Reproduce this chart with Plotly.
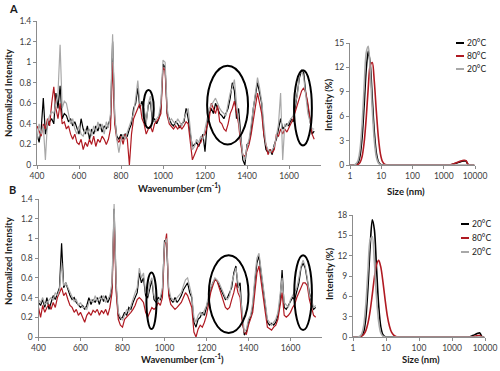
import plotly.graph_objects as go

# ---------------- data ----------------
wavenumbers = list(range(400, 1730, 10))

specA_20a = [0.30,0.22,0.35,0.65,0.30,0.38,0.42,0.45,0.40,0.70,
             0.55,0.77,0.45,0.50,0.48,0.42,0.45,0.38,0.42,0.35,
             0.30,0.45,0.35,0.30,0.38,0.25,0.35,0.30,0.38,0.33,
             0.40,0.32,0.38,0.35,0.40,0.45,1.20,0.45,0.28,0.25,
             0.30,0.25,0.30,0.28,0.35,0.40,0.55,0.60,0.75,0.55,
             0.62,0.50,0.42,0.58,0.62,0.42,0.45,0.40,0.45,0.55,
             0.98,0.95,0.50,0.45,0.40,0.38,0.42,0.40,0.36,0.40,
             0.42,0.55,0.45,0.30,0.18,0.20,0.22,0.18,0.25,0.30,
             0.13,0.40,0.50,0.55,0.50,0.60,0.55,0.50,0.48,0.45,
             0.50,0.55,0.65,0.80,0.72,0.45,0.55,0.30,0.05,0.00,
             0.20,0.22,0.35,0.55,0.70,0.80,0.70,0.60,0.30,0.15,
             0.12,0.15,0.10,0.20,0.25,0.35,0.45,0.35,0.38,0.40,
             0.38,0.45,0.42,0.55,0.70,0.85,0.92,0.90,0.70,0.55,
             0.40,0.30,0.33]
specA_80 = [0.38,0.32,0.28,0.40,0.35,0.45,0.38,0.60,0.76,0.55,
            0.45,0.60,0.40,0.42,0.35,0.38,0.30,0.25,0.30,0.22,
            0.20,0.25,0.15,0.22,0.18,0.25,0.20,0.28,0.18,0.25,
            0.22,0.28,0.25,0.20,0.25,0.35,1.00,0.40,0.25,0.22,
            0.28,0.20,0.30,0.25,0.00,0.30,0.45,0.50,0.55,0.60,
            0.45,0.40,0.30,0.35,0.38,0.32,0.40,0.42,0.45,0.50,
            0.95,0.92,0.48,0.40,0.38,0.35,0.38,0.35,0.38,0.35,
            0.38,0.42,0.40,0.25,0.05,0.10,0.15,0.20,0.22,0.28,
            0.30,0.38,0.45,0.60,0.55,0.50,0.58,0.42,0.40,0.35,
            0.33,0.40,0.50,0.55,0.62,0.50,0.40,0.20,0.10,0.08,
            0.15,0.20,0.30,0.45,0.60,0.70,0.60,0.50,0.30,0.18,
            0.10,0.15,0.12,0.15,0.30,0.28,0.35,0.30,0.35,0.32,
            0.36,0.40,0.45,0.52,0.58,0.65,0.72,0.75,0.70,0.60,
            0.45,0.30,0.25]
specA_20b = [0.25,0.40,0.30,0.38,0.05,0.42,0.48,0.52,0.50,0.60,
             0.70,1.17,0.55,0.62,0.60,0.50,0.40,0.45,0.35,0.30,
             0.38,0.30,0.28,0.35,0.30,0.35,0.28,0.38,0.32,0.42,
             0.35,0.40,0.30,0.42,0.36,0.50,1.27,0.50,0.25,0.12,
             0.25,0.30,0.25,0.32,0.38,0.45,0.50,0.65,0.82,0.60,
             0.58,0.55,0.40,0.60,0.67,0.45,0.42,0.45,0.48,0.60,
             1.02,1.00,0.55,0.42,0.45,0.42,0.40,0.45,0.42,0.38,
             0.45,0.50,0.55,0.35,0.15,0.18,0.25,0.22,0.28,0.25,
             0.35,0.45,0.55,0.58,0.62,0.65,0.60,0.55,0.52,0.50,
             0.48,0.60,0.70,0.75,0.83,0.60,0.45,0.25,0.10,0.05,
             0.18,0.25,0.40,0.55,0.75,0.85,0.75,0.62,0.40,0.20,
             0.15,0.12,0.15,0.18,0.28,0.40,0.70,0.05,0.40,0.38,
             0.42,0.45,0.48,0.60,0.68,0.88,0.92,0.85,0.65,0.50,
             0.42,0.35,0.35]

specB_20a = [0.35,0.32,0.38,0.30,0.40,0.28,0.35,0.42,0.38,0.45,
             0.50,0.95,0.50,0.55,0.48,0.42,0.38,0.40,0.35,0.33,
             0.30,0.32,0.28,0.32,0.40,0.33,0.38,0.35,0.40,0.33,
             0.42,0.36,0.42,0.35,0.40,0.50,1.30,0.50,0.22,0.18,
             0.20,0.25,0.22,0.30,0.28,0.35,0.40,0.45,0.65,0.55,
             0.60,0.42,0.40,0.50,0.58,0.38,0.35,0.40,0.38,0.45,
             0.98,0.95,0.45,0.38,0.35,0.40,0.35,0.38,0.42,0.48,
             0.52,0.55,0.45,0.40,0.15,0.10,0.18,0.20,0.25,0.22,
             0.30,0.40,0.48,0.55,0.58,0.57,0.52,0.48,0.42,0.38,
             0.40,0.45,0.50,0.65,0.72,0.50,0.55,0.20,0.02,0.05,
             0.15,0.20,0.30,0.55,0.75,0.82,0.65,0.45,0.30,0.15,
             0.12,0.14,0.12,0.15,0.22,0.35,0.68,0.30,0.28,0.32,
             0.35,0.40,0.38,0.48,0.55,0.70,0.75,0.70,0.55,0.45,
             0.35,0.28,0.30]
specB_80 = [0.30,0.20,0.32,0.25,0.30,0.33,0.28,0.35,0.30,0.40,
            0.45,0.50,0.42,0.45,0.38,0.32,0.30,0.25,0.28,0.22,
            0.25,0.20,0.15,0.22,0.25,0.22,0.27,0.25,0.28,0.22,
            0.27,0.24,0.28,0.22,0.30,0.45,1.20,0.45,0.18,0.12,
            0.10,0.18,0.20,0.22,0.25,0.28,0.32,0.38,0.40,0.38,
            0.35,0.25,0.20,0.25,0.30,0.28,0.30,0.35,0.32,0.40,
            0.90,1.05,0.42,0.33,0.30,0.28,0.30,0.32,0.35,0.40,
            0.45,0.42,0.35,0.30,0.05,0.00,0.08,0.12,0.10,0.15,
            0.22,0.35,0.45,0.52,0.58,0.57,0.50,0.42,0.35,0.30,
            0.28,0.30,0.38,0.45,0.55,0.45,0.40,0.15,0.05,0.03,
            0.12,0.18,0.25,0.45,0.65,0.72,0.58,0.40,0.25,0.10,
            0.08,0.07,0.10,0.12,0.18,0.30,0.45,0.22,0.20,0.22,
            0.25,0.30,0.33,0.40,0.45,0.50,0.55,0.55,0.52,0.38,
            0.30,0.22,0.20]
specB_20b = [0.38,0.35,0.40,0.33,0.35,0.38,0.40,0.38,0.45,0.42,
             0.48,0.75,0.52,0.55,0.50,0.45,0.40,0.36,0.38,0.32,
             0.35,0.30,0.30,0.28,0.35,0.38,0.35,0.42,0.36,0.40,
             0.38,0.42,0.35,0.38,0.42,0.55,1.35,0.55,0.25,0.20,
             0.17,0.22,0.28,0.25,0.32,0.38,0.45,0.50,0.70,0.60,
             0.65,0.45,0.42,0.55,0.60,0.42,0.38,0.36,0.40,0.50,
             0.95,1.00,0.50,0.40,0.38,0.36,0.40,0.42,0.45,0.52,
             0.58,0.60,0.50,0.42,0.20,0.15,0.22,0.25,0.22,0.28,
             0.32,0.42,0.50,0.55,0.60,0.58,0.55,0.50,0.45,0.40,
             0.38,0.42,0.55,0.62,0.70,0.55,0.45,0.25,0.05,0.08,
             0.18,0.22,0.35,0.60,0.80,0.85,0.70,0.50,0.35,0.18,
             0.15,0.12,0.15,0.18,0.25,0.40,0.60,0.35,0.32,0.30,
             0.38,0.42,0.45,0.50,0.60,0.72,0.78,0.72,0.60,0.42,
             0.38,0.30,0.32]

sizes_nm = [1.00, 1.16, 1.35, 1.56, 1.82, 2.11, 2.45, 2.84, 3.31, 3.84,
            4.45, 5.17, 6.01, 6.97, 8.10, 9.40, 10.9, 12.7, 14.7, 17.1,
            19.9, 23.1, 26.8, 50, 100, 500, 1000, 1160, 1350, 1560,
            1820, 2110, 2450, 2840, 3310, 3840, 4450, 5170, 6010, 6970,
            8100, 9400]

dlsA_20a = [0,0,0,0.06,0.32,1.22,3.5,7.4,11.8,14.0,
            12.35,8.1,4.0,1.46,0.40,0.08,0,0,0,0,
            0,0,0,0,0,0,0,0,0,0,
            0.05,0.12,0.20,0.30,0.38,0.45,0.50,0.48,0.05,0,
            0,0]
dlsA_80 = [0,0,0,0,0.08,0.33,1.08,2.8,5.8,9.5,
           12.25,12.6,10.2,6.6,3.4,1.38,0.44,0.11,0.02,0,
           0,0,0,0,0,0,0,0,0,0,
           0.07,0.15,0.25,0.35,0.45,0.52,0.58,0.55,0.08,0,
           0,0]
dlsA_20b = [0,0,0,0.13,0.59,2.0,5.1,9.7,13.8,14.6,
            11.5,6.8,3.0,0.98,0.24,0.03,0,0,0,0,
            0,0,0,0,0,0,0,0,0,0,
            0,0,0,0,0,0,0,0,0,0,
            0,0]

dlsB_20a = [0,0,0,0,0.15,0.77,2.8,7.3,13.4,17.3,
            15.8,10.1,4.6,1.47,0.33,0.05,0,0,0,0,
            0,0,0,0,0,0,0,0,0,0,
            0,0,0,0,0.02,0.12,0.25,0.40,0.55,0.60,
            0.05,0]
dlsB_80 = [0,0,0,0.04,0.13,0.37,0.94,2.04,3.85,6.26,
           8.8,10.7,11.3,10.3,8.1,5.5,3.2,1.63,0.71,0.27,
           0.09,0.02,0,0,0,0,0,0,0,0,
           0,0,0,0,0,0.03,0.08,0.15,0.20,0.22,
           0.02,0]
dlsB_20b = [0,0,0,0.07,0.42,1.67,4.8,9.8,14.3,14.8,
            11.0,5.8,2.2,0.59,0.11,0,0,0,0,0,
            0,0,0,0,0,0,0,0,0,0,
            0,0,0,0,0,0,0,0,0,0,
            0,0]

series_names = ["20°C", "80°C", "20°C"]
series_colors = ["#000000", "#B01A22", "#A8A8A8"]

spec_ticks = [0, 0.2, 0.4, 0.6, 0.8, 1, 1.2, 1.4]
wn_ticks = [400, 600, 800, 1000, 1200, 1400, 1600]
size_ticks = [1, 10, 100, 1000, 10000]
dlsA_ticks = [0, 3, 6, 9, 12, 15]
dlsB_ticks = [0, 3, 6, 9, 12, 15, 18]

# ellipse highlight regions (wavenumber range, intensity range)
ellipsesA = [(906, 956, 0.36, 0.73), (1210, 1405, 0.20, 0.965), (1624, 1709, 0.19, 0.92)]
ellipsesB = [(914, 962, 0.08, 0.655), (1211, 1400, 0.04, 0.83), (1618, 1702, 0.07, 0.83)]

# ---------------- figure ----------------
W, H = 500, 371
def fx(p): return p / W
def fy(p): return 1 - p / H

FONT = "Lato, 'Liberation Sans', sans-serif"
fig = go.Figure()

def add_spec(ys, xa, ya):
    for y, c in zip(ys, series_colors):
        fig.add_trace(go.Scatter(x=wavenumbers, y=y, mode="lines", xaxis=xa, yaxis=ya,
                                 line=dict(color=c, width=1.2), showlegend=False))

def add_dls(ys, xa, ya):
    for y, c in zip(ys, series_colors):
        fig.add_trace(go.Scatter(x=sizes_nm, y=y, mode="lines", xaxis=xa, yaxis=ya,
                                 line=dict(color=c, width=1.6, shape="spline", smoothing=0.8),
                                 showlegend=False))

add_spec([specA_20a, specA_80, specA_20b], "x", "y")
add_dls([dlsA_20a, dlsA_80, dlsA_20b], "x2", "y2")
add_spec([specB_20a, specB_80, specB_20b], "x3", "y3")
add_dls([dlsB_20a, dlsB_80, dlsB_20b], "x4", "y4")

axcommon = dict(showline=True, linecolor="#8C8C8C", linewidth=1, showgrid=False, zeroline=False,
                ticks="outside", ticklen=3, tickcolor="#8C8C8C", automargin=False,
                tickfont=dict(family=FONT, size=8.5, color="#404040"))

fig.update_layout(
    template="none",
    width=W, height=H, margin=dict(l=0, r=0, t=0, b=0, pad=0), autosize=False,
    paper_bgcolor="white", plot_bgcolor="white", showlegend=False,
    xaxis=dict(domain=[fx(37), fx(320.5)], range=[400, 1750], tickvals=wn_ticks, anchor="y", **axcommon),
    yaxis=dict(domain=[fy(165), fy(21)], range=[0, 1.4], tickvals=spec_ticks, anchor="x", **axcommon),
    xaxis2=dict(domain=[fx(350), fx(475)], type="log", range=[0, 4], tickvals=size_ticks,
                ticktext=[str(v) for v in size_ticks], anchor="y2", **axcommon),
    yaxis2=dict(domain=[fy(165), fy(43)], range=[0, 15], tickvals=dlsA_ticks, anchor="x2", **axcommon),
    xaxis3=dict(domain=[fx(38.5), fx(322)], range=[400, 1750], tickvals=wn_ticks, anchor="y3", **axcommon),
    yaxis3=dict(domain=[fy(337), fy(199)], range=[0, 1.4], tickvals=spec_ticks, anchor="x3", **axcommon),
    xaxis4=dict(domain=[fx(353), fx(485)], type="log", range=[0, 4], tickvals=size_ticks,
                ticktext=[str(v) for v in size_ticks], anchor="y4", **axcommon),
    yaxis4=dict(domain=[fy(337), fy(215)], range=[0, 18], tickvals=dlsB_ticks, anchor="x4", **axcommon),
)

shapes = []
for (x0, x1, y0, y1) in ellipsesA:
    shapes.append(dict(type="circle", xref="x", yref="y", x0=x0, x1=x1, y0=y0, y1=y1,
                       line=dict(color="black", width=2)))
for (x0, x1, y0, y1) in ellipsesB:
    shapes.append(dict(type="circle", xref="x3", yref="y3", x0=x0, x1=x1, y0=y0, y1=y1,
                       line=dict(color="black", width=2)))

annotations = []
def label(text, px, py, size=9.5, angle=0, bold=True, xanchor="center"):
    annotations.append(dict(text=(f"<b>{text}</b>" if bold else text), x=fx(px), y=fy(py),
                            xref="paper", yref="paper", showarrow=False, textangle=angle,
                            xanchor=xanchor, yanchor="middle", borderpad=0,
                            font=dict(family=FONT, size=size, color="#1a1a1a")))

label("A", 13, 8, size=11)
label("B", 12, 189, size=11)
label("Normalized Intensity", 8, 93, angle=-90)
label("Normalized Intensity", 8, 261, angle=-90)
label("Wavenumber (cm<sup>-1</sup>)", 179, 188)
label("Wavenumber (cm<sup>-1</sup>)", 182, 358)
label("Size (nm)", 406, 191)
label("Size (nm)", 421, 359)
label("Intensity (%)", 329, 105, angle=-90)
label("Intensity (%)", 329, 274, angle=-90)

# manual legends
legendA = [(456, 464, 43), (456, 464, 56), (456, 464, 69)]
legendB = [(461, 469, 224), (461, 469, 238), (461, 469, 252)]
for leg in (legendA, legendB):
    for (x0, x1, yy), name, c in zip(leg, series_names, series_colors):
        shapes.append(dict(type="line", xref="paper", yref="paper", x0=fx(x0), x1=fx(x1),
                           y0=fy(yy), y1=fy(yy), line=dict(color=c, width=2)))
        label(name, x1 + 1.5, yy, size=8.5, bold=False, xanchor="left")

fig.update_layout(shapes=shapes, annotations=annotations)
fig.write_html("out.html", config={"displayModeBar": False},
               post_script="document.body.style.margin='0';document.body.style.padding='0';")
